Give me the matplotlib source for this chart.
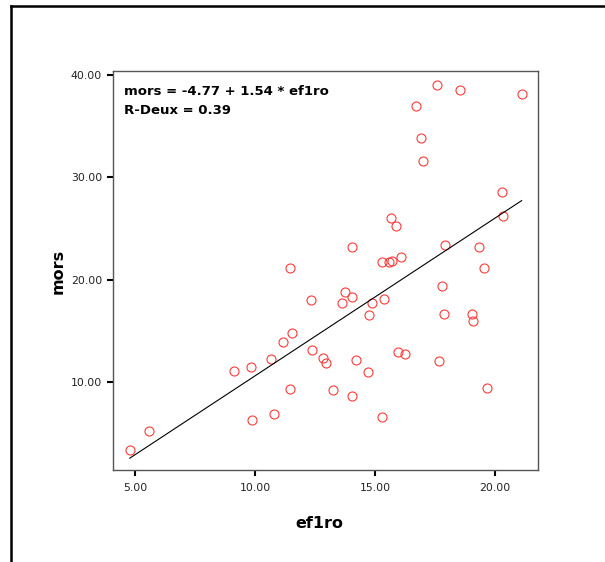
import matplotlib
matplotlib.use("Agg")
import matplotlib.pyplot as plt
from matplotlib.lines import Line2D
import numpy as np

# values
ef1ro = [17.57, 18.54, 21.11, 16.69, 16.93, 16.99, 20.28, 20.32, 15.65, 15.88,
         14.05, 17.92, 19.32, 11.46, 15.28, 15.57, 15.72, 16.08, 19.53, 17.80,
         13.75, 14.05, 12.32, 13.63, 14.88, 15.39, 14.74, 17.86, 19.03, 19.10,
         11.53, 11.15, 12.39, 15.94, 16.26, 12.82, 12.96, 14.22, 17.67, 10.68,
         9.14, 9.82, 14.72, 11.46, 13.26, 14.05, 19.68, 9.86, 10.78, 15.28,
         5.57, 4.78]
mors = [39.02, 38.54, 38.11, 37.00, 33.88, 31.60, 28.61, 26.23, 26.07, 25.26,
        23.21, 23.37, 23.21, 21.16, 21.72, 21.72, 21.88, 22.27, 21.16, 19.37,
        18.85, 18.30, 18.03, 17.74, 17.74, 18.16, 16.53, 16.67, 16.70, 16.01,
        14.78, 13.93, 13.12, 12.99, 12.73, 12.34, 11.91, 12.18, 12.05, 12.30,
        11.07, 11.49, 10.98, 9.32, 9.22, 8.66, 9.47, 6.35, 6.90, 6.61,
        5.28, 3.39]

intercept = -4.77
slope = 1.54
r2 = 0.39

x_ticks = [5, 10, 15, 20]
y_ticks = [10, 20, 30, 40]

fig = plt.figure(figsize=(6.05, 5.62), dpi=100)
ax = fig.add_axes([113 / 605, 1 - 470 / 562, 425 / 605, 399 / 562])

ax.plot(ef1ro, mors, linestyle="none", marker="o", markersize=6.5,
        markerfacecolor="none", markeredgecolor="#ff3b3b", markeredgewidth=0.8)

# fit line over the data range
xl = np.array([min(ef1ro), max(ef1ro)])
ax.plot(xl, intercept + slope * xl, color="black", linewidth=0.8)

ax.set_xlim(4.083, 21.79)
ax.set_ylim(1.44, 40.39)
ax.set_xticks(x_ticks)
ax.set_xticklabels(["%.2f" % v for v in x_ticks])
ax.set_yticks(y_ticks)
ax.set_yticklabels(["%.2f" % v for v in y_ticks])
ax.tick_params(axis="both", direction="out", length=4.3, width=1.5,
               color="black", labelsize=7.8, labelcolor="#222222")
ax.tick_params(axis="x", pad=5)
ax.tick_params(axis="y", pad=3.6)
for s in ax.spines.values():
    s.set_color("#555555")
    s.set_linewidth(1.0)

ax.text(0.026, 0.948, "mors = %.2f + %.2f * ef1ro" % (intercept, slope),
        transform=ax.transAxes, fontsize=9.5, fontweight="bold", va="center")
ax.text(0.026, 0.900, "R-Deux = %.2f" % r2,
        transform=ax.transAxes, fontsize=9.5, fontweight="bold", va="center")

fig.text(319 / 605, 1 - 524 / 562, "ef1ro", fontsize=11.5, fontweight="bold",
         ha="center", va="center")
fig.text(58 / 605, 1 - 271 / 562, "mors", fontsize=11.5, fontweight="bold",
         ha="center", va="center", rotation=90)

# outer frame (top and left edges visible)
fig.add_artist(Line2D([10.5 / 605, 1], [1 - 5.5 / 562, 1 - 5.5 / 562],
                      color="black", linewidth=1.8, transform=fig.transFigure))
fig.add_artist(Line2D([10.5 / 605, 10.5 / 605], [0, 1 - 5.5 / 562],
                      color="black", linewidth=1.8, transform=fig.transFigure))

fig.savefig("out.png", dpi=100)
